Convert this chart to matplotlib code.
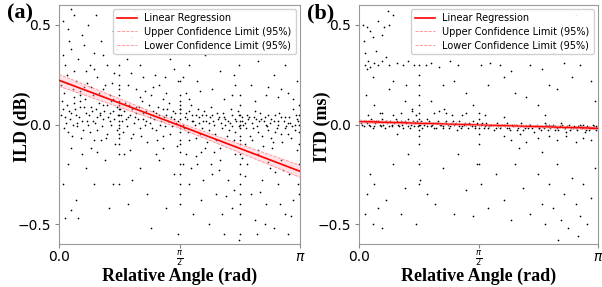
import numpy as np
import matplotlib
matplotlib.use("Agg")
import matplotlib.pyplot as plt

PI = np.pi

# ---- ILD scatter (x in rad, y in dB) ----
ild_upper = [(0.05, 0.52), (0.12, 0.48), (0.2, 0.55), (0.3, 0.45), (0.38, 0.5), (0.15, 0.38),
             (0.25, 0.33), (0.08, 0.3), (0.45, 0.36), (0.55, 0.42), (0.62, 0.3), (0.7, 0.47),
             (0.1, 0.25), (0.22, 0.22), (0.35, 0.27), (0.5, 0.24), (0.6, 0.2), (0.72, 0.26),
             (0.18, 0.18), (0.42, 0.19), (0.66, 0.15), (0.03, 0.2), (0.28, 0.15), (0.13, 0.42),
             (0.48, 0.55), (0.58, 0.35), (0.33, 0.4), (0.05, 0.35), (0.75, 0.38), (0.4, 0.3),
             (0.85, 0.52), (0.95, 0.44), (1.05, 0.3), (1.15, 0.38), (1.25, 0.25), (1.35, 0.5),
             (1.45, 0.33), (1.55, 0.22), (0.9, 0.2), (1.0, 0.18), (1.1, 0.24), (1.2, 0.15),
             (1.3, 0.2), (1.4, 0.16), (1.5, 0.28), (0.88, 0.33), (1.18, 0.48), (1.42, 0.42),
             (1.02, 0.55), (1.7, 0.3), (1.8, 0.22), (1.9, 0.35), (2.0, 0.18), (2.1, 0.27),
             (2.2, 0.42), (2.3, 0.2), (1.75, 0.47), (2.05, 0.38), (2.25, 0.15), (1.95, 0.52),
             (2.35, 0.3), (1.65, 0.16), (2.5, 0.2), (2.6, 0.32), (2.7, 0.15), (2.8, 0.25),
             (2.9, 0.18), (3.0, 0.4), (3.1, 0.22), (2.65, 0.45), (2.95, 0.3), (2.55, 0.12),
             (2.85, 0.14), (3.05, 0.13), (0.16, 0.58), (0.98, 0.57), (0.27, 0.17), (0.52, 0.16),
             (0.07, 0.16), (0.37, 0.21), (1.12, 0.17), (1.62, 0.24), (2.15, 0.13), (2.72, 0.19),
             (0.11, 0.21), (0.19, 0.27), (0.32, 0.19), (0.46, 0.28), (0.57, 0.18), (0.69, 0.21),
             (0.94, 0.26), (1.22, 0.19), (1.38, 0.24), (1.84, 0.17), (2.28, 0.25), (2.98, 0.16)]

ild_band = [(0.03, 0.05), (0.07, -0.02), (0.1, 0.1), (0.14, 0.03), (0.17, -0.06), (0.21, 0.08),
            (0.24, 0.01), (0.28, 0.12), (0.31, -0.03), (0.35, 0.06), (0.38, 0.0), (0.42, 0.09),
            (0.45, -0.08), (0.49, 0.04), (0.52, 0.11), (0.56, -0.01), (0.59, 0.07), (0.63, -0.05),
            (0.66, 0.02), (0.7, 0.13), (0.73, -0.1), (0.77, 0.05), (0.8, 0.08), (0.84, -0.04),
            (0.87, 0.03), (0.91, 0.1), (0.94, -0.07), (0.98, 0.01), (1.01, 0.06), (1.05, -0.02),
            (1.08, 0.12), (1.12, 0.0), (1.15, -0.09), (1.19, 0.04), (1.22, 0.07), (1.26, -0.03),
            (1.29, 0.09), (1.33, 0.02), (1.36, -0.06), (1.4, 0.05), (1.43, 0.11), (1.47, -0.01),
            (1.5, 0.03), (1.54, -0.11), (1.58, 0.08), (1.61, 0.0), (1.65, 0.06), (1.68, -0.04),
            (1.72, 0.1), (1.75, 0.02), (1.79, -0.07), (1.82, 0.04), (1.86, -0.02), (1.89, 0.07),
            (1.93, -0.09), (1.96, 0.01), (2.0, 0.05), (2.03, -0.05), (2.07, 0.03), (2.1, -0.12),
            (2.14, 0.06), (2.17, 0.0), (2.21, -0.03), (2.24, 0.08), (2.28, -0.08), (2.31, 0.02),
            (2.35, -0.01), (2.38, 0.04), (2.42, -0.1), (2.45, 0.05), (2.49, -0.06), (2.52, 0.01),
            (2.56, 0.07), (2.59, -0.04), (2.63, 0.03), (2.66, -0.11), (2.7, 0.0), (2.73, 0.05),
            (2.77, -0.07), (2.8, 0.02), (2.84, -0.02), (2.87, 0.06), (2.91, -0.09), (2.94, 0.04),
            (2.98, -0.05), (3.01, 0.01), (3.05, 0.08), (3.08, -0.03), (3.12, 0.02),
            (0.05, 0.08), (0.09, 0.01), (0.12, -0.04), (0.16, 0.06), (0.19, 0.11), (0.23, -0.01),
            (0.26, 0.04), (0.29, -0.07), (0.33, 0.09), (0.36, 0.02), (0.4, -0.04), (0.43, 0.07),
            (0.47, 0.01), (0.5, -0.03), (0.54, 0.05), (0.57, 0.1), (0.61, -0.07), (0.64, 0.04),
            (0.68, 0.0), (0.71, 0.07), (0.75, -0.03), (0.82, 0.02), (0.86, 0.11), (0.89, -0.01),
            (0.93, 0.05), (0.96, -0.05), (1.0, 0.09), (1.03, 0.03), (1.07, -0.06), (1.1, 0.06),
            (1.14, 0.02), (1.17, 0.1), (1.21, -0.02), (1.24, 0.03), (1.28, -0.08), (1.31, 0.05),
            (1.35, 0.08), (1.38, -0.01), (1.42, 0.02), (1.45, -0.05), (1.49, 0.07), (1.52, 0.01),
            (1.63, -0.02), (1.67, 0.03), (1.7, -0.08), (1.74, 0.05), (1.77, 0.0), (1.81, 0.08),
            (1.84, -0.05), (1.88, 0.02), (1.91, 0.05), (1.95, -0.03), (1.98, 0.09), (2.02, 0.0),
            (2.05, -0.08), (2.09, 0.04), (2.12, -0.02), (2.16, 0.03), (2.19, -0.06), (2.23, 0.01),
            (2.26, 0.05), (2.3, -0.04), (2.33, 0.07), (2.4, 0.0), (2.44, -0.02), (2.47, 0.03),
            (2.51, -0.08), (2.54, 0.04), (2.58, -0.01), (2.61, 0.02), (2.65, -0.06), (2.68, 0.04),
            (2.72, -0.03), (2.75, 0.01), (2.79, -0.09), (2.82, 0.05), (2.86, 0.0), (2.89, -0.05),
            (2.93, 0.02), (2.96, -0.01), (3.0, 0.04), (3.03, -0.07), (3.07, 0.0), (3.1, 0.03),
            (0.2, 0.14), (0.44, 0.15), (0.68, 0.12), (1.06, 0.14), (1.36, 0.13), (1.7, 0.13),
            (0.15, -0.12), (0.5, -0.14), (0.93, -0.13), (1.27, -0.15), (1.85, -0.14), (2.6, -0.13),
            (0.04, 0.12), (0.08, 0.04), (0.13, 0.07), (0.18, 0.0), (0.22, 0.05), (0.27, 0.09),
            (0.3, 0.02), (0.34, 0.13), (0.39, 0.05), (0.44, 0.02), (0.48, 0.08), (0.53, 0.06),
            (0.58, 0.03), (0.62, 0.1), (0.67, 0.06), (0.72, 0.03), (0.76, 0.09), (0.81, 0.05),
            (0.85, 0.07), (0.9, 0.04), (0.95, 0.08), (0.99, 0.04), (1.04, 0.09), (1.09, 0.03),
            (1.13, 0.07), (1.18, 0.01), (1.23, 0.05), (1.27, 0.06), (1.32, 0.0), (1.37, 0.04),
            (1.41, 0.08), (1.46, 0.04), (1.51, 0.06), (1.55, 0.02), (1.64, 0.04), (1.69, 0.07),
            (1.73, 0.02), (1.78, 0.05), (1.83, 0.01), (1.87, 0.05), (1.92, 0.02), (1.97, 0.04),
            (2.01, 0.02), (2.06, 0.06), (2.11, 0.01), (2.15, 0.04), (2.2, 0.02), (2.25, -0.01),
            (2.29, 0.03), (2.34, 0.05), (2.39, 0.02), (2.43, 0.01), (2.48, 0.04), (2.53, -0.02),
            (2.57, 0.03), (2.62, 0.06), (2.67, 0.02), (2.71, -0.01), (2.76, 0.03), (2.81, -0.04),
            (2.85, 0.02), (2.9, 0.04), (2.95, -0.02), (2.99, 0.01), (3.04, -0.01), (3.09, 0.05)]

ild_lower = [(0.05, -0.3), (0.08, -0.47), (0.15, -0.43), (0.22, -0.38), (0.25, -0.47),
             (0.45, -0.3), (0.3, -0.15), (0.55, -0.08), (0.35, -0.22), (0.6, -0.18),
             (0.7, -0.3), (0.12, -0.2), (0.42, -0.12), (0.65, -0.42),
             (0.85, -0.15), (0.95, -0.28), (1.05, -0.22), (1.15, -0.35), (1.3, -0.18),
             (1.4, -0.42), (1.5, -0.25), (1.2, -0.52), (0.9, -0.4), (1.35, -0.12), (1.55, -0.55),
             (1.65, -0.15), (1.7, -0.3), (1.75, -0.45), (1.8, -0.2), (1.85, -0.38), (1.9, -0.12),
             (1.95, -0.5), (2.0, -0.25), (2.05, -0.35), (2.1, -0.18), (2.15, -0.55), (2.2, -0.28),
             (2.25, -0.42), (2.3, -0.15), (2.35, -0.58), (1.72, -0.22), (1.88, -0.28),
             (2.12, -0.45), (2.28, -0.33), (2.02, -0.14), (2.45, -0.2), (2.5, -0.35),
             (2.55, -0.48), (2.6, -0.15), (2.65, -0.28), (2.7, -0.4), (2.75, -0.22), (2.8, -0.52),
             (2.85, -0.3), (2.9, -0.18), (2.95, -0.45), (3.0, -0.25), (3.05, -0.38), (3.1, -0.13),
             (2.58, -0.55), (2.78, -0.12), (2.98, -0.55), (2.68, -0.5), (3.12, -0.3), (2.88, -0.4),
             (1.98, -0.2), (2.18, -0.36), (2.42, -0.26), (2.62, -0.34), (2.82, -0.24), (3.02, -0.46),
             (1.78, -0.16), (2.08, -0.23), (2.38, -0.17), (2.72, -0.19), (2.92, -0.23), (1.62, -0.2)]

ild_col_x = [0.785, 1.571, 2.356, 3.13]
ild_col_y = [[0.3, 0.25, 0.2, 0.18, 0.15, 0.12, 0.1, 0.08, 0.05, 0.02, 0.0, -0.02, -0.05, -0.07,
              -0.1, -0.15, -0.3],
             [0.22, 0.15, 0.12, 0.1, 0.08, 0.06, 0.03, 0.0, -0.02, -0.04, -0.08, -0.1, -0.14,
              -0.2, -0.25, -0.3, -0.35, -0.4],
             [0.15, 0.1, 0.05, 0.02, 0.0, -0.02, -0.06, -0.08, -0.1, -0.15, -0.2, -0.25, -0.3,
              -0.35, -0.4, -0.45, -0.55],
             [0.1, 0.05, 0.0, -0.04, -0.1, -0.2, -0.35]]

# ---- ITD scatter (x in rad, y in ms) ----
itd_upper = [(0.05, 0.5), (0.1, 0.49), (0.15, 0.47), (0.25, 0.52), (0.33, 0.49), (0.4, 0.5),
             (0.06, 0.42), (0.18, 0.44), (0.3, 0.45), (0.45, 0.55), (0.38, 0.57),
             (0.08, 0.3), (0.1, 0.28), (0.12, 0.32), (0.15, 0.29), (0.2, 0.31), (0.25, 0.3),
             (0.3, 0.32), (0.4, 0.3), (0.5, 0.31), (0.58, 0.3), (0.65, 0.32), (0.72, 0.3),
             (0.08, 0.36), (0.22, 0.37), (0.35, 0.34), (0.18, 0.24), (0.45, 0.22),
             (0.09, 0.15), (0.2, 0.1), (0.4, 0.18), (0.6, 0.12), (0.7, 0.08),
             (0.88, 0.3), (0.95, 0.31), (1.05, 0.29), (1.2, 0.32), (1.3, 0.3), (1.1, 0.2),
             (1.25, 0.22), (1.4, 0.16), (1.5, 0.1), (0.95, 0.12), (1.15, 0.06), (1.35, 0.05),
             (1.6, 0.3), (1.72, 0.31), (1.85, 0.3), (1.9, 0.24), (2.0, 0.27), (1.7, 0.2),
             (2.05, 0.16), (2.15, 0.38), (2.25, 0.3), (2.4, 0.28), (2.55, 0.36),
             (2.2, 0.14), (2.35, 0.1), (2.5, 0.2), (2.6, 0.18), (2.7, 0.31), (2.8, 0.24),
             (2.9, 0.3), (3.05, 0.22), (3.1, 0.12), (2.85, 0.55), (1.42, 0.52), (2.45, 0.05),
             (0.55, 0.06), (0.75, 0.05), (1.05, 0.07), (0.3, 0.06), (0.62, 0.2)]

itd_band = [(0.02, 0.01), (0.06, -0.01), (0.09, 0.02), (0.13, 0.0), (0.16, 0.03), (0.2, -0.01),
            (0.23, 0.02), (0.27, 0.0), (0.3, 0.03), (0.34, -0.02), (0.37, 0.01), (0.41, 0.02),
            (0.44, -0.01), (0.48, 0.03), (0.51, 0.0), (0.55, 0.02), (0.58, -0.02), (0.62, 0.01),
            (0.65, 0.03), (0.69, 0.0), (0.72, -0.01), (0.76, 0.02), (0.8, 0.0), (0.83, -0.02),
            (0.87, 0.01), (0.9, 0.03), (0.94, -0.01), (0.97, 0.01), (1.01, -0.02), (1.04, 0.02),
            (1.08, 0.0), (1.11, -0.01), (1.15, 0.02), (1.18, -0.02), (1.22, 0.01), (1.25, 0.0),
            (1.29, -0.03), (1.32, 0.02), (1.36, -0.01), (1.39, 0.01), (1.43, -0.02), (1.46, 0.0),
            (1.5, 0.02), (1.53, -0.01), (1.6, 0.0), (1.64, -0.02), (1.67, 0.01), (1.71, -0.01),
            (1.74, 0.0), (1.78, -0.03), (1.81, 0.01), (1.85, -0.02), (1.88, 0.0), (1.92, -0.01),
            (1.95, 0.01), (1.99, -0.03), (2.02, -0.01), (2.06, 0.0), (2.09, -0.02), (2.13, 0.01),
            (2.16, -0.03), (2.2, -0.01), (2.23, 0.0), (2.27, -0.02), (2.3, -0.04), (2.34, 0.0),
            (2.37, -0.02), (2.41, -0.01), (2.44, 0.01), (2.48, -0.03), (2.51, -0.02), (2.55, 0.0),
            (2.58, -0.01), (2.62, -0.03), (2.65, 0.01), (2.69, -0.02), (2.72, -0.04), (2.76, 0.0),
            (2.79, -0.02), (2.83, -0.01), (2.86, -0.03), (2.9, 0.0), (2.93, -0.02), (2.97, -0.04),
            (3.0, -0.01), (3.04, -0.02), (3.07, 0.0), (3.11, -0.03),
            (0.04, 0.0), (0.11, 0.01), (0.18, -0.02), (0.25, 0.02), (0.32, 0.0), (0.39, -0.01),
            (0.46, 0.01), (0.53, -0.01), (0.6, 0.02), (0.67, -0.02), (0.74, 0.01), (0.81, 0.02),
            (0.89, -0.01), (0.96, 0.0), (1.03, 0.01), (1.1, -0.02), (1.17, 0.0), (1.24, 0.02),
            (1.31, -0.01), (1.38, 0.0), (1.45, 0.01), (1.52, -0.02), (1.62, 0.01), (1.69, -0.02),
            (1.76, 0.0), (1.83, -0.01), (1.9, 0.0), (1.97, -0.02), (2.04, 0.0), (2.11, -0.01),
            (2.18, -0.02), (2.25, 0.0), (2.32, -0.01), (2.39, -0.03), (2.46, 0.0), (2.53, -0.01),
            (2.6, -0.02), (2.67, 0.0), (2.74, -0.01), (2.81, -0.02), (2.88, -0.01), (2.95, 0.0),
            (3.02, -0.03), (3.09, -0.01),
            (0.07, 0.02), (0.14, -0.01), (0.21, 0.01), (0.29, -0.01), (0.36, 0.02), (0.43, 0.0),
            (0.5, 0.02), (0.57, 0.0), (0.64, -0.01), (0.71, 0.02), (0.78, -0.01), (0.85, 0.0),
            (0.92, 0.02), (0.99, -0.02), (1.06, 0.0), (1.13, 0.01), (1.2, -0.01), (1.27, 0.01),
            (1.34, -0.02), (1.41, 0.0), (1.48, -0.01), (1.55, 0.01), (1.66, -0.01), (1.73, 0.0),
            (1.8, -0.02), (1.87, -0.01), (1.94, -0.02), (2.01, 0.0), (2.08, -0.03), (2.15, -0.01),
            (2.22, -0.02), (2.29, -0.01), (2.36, -0.02), (2.43, -0.02), (2.5, 0.0), (2.57, -0.03),
            (2.64, -0.01), (2.71, -0.02), (2.78, -0.03), (2.85, -0.02), (2.92, -0.01), (2.99, -0.03),
            (3.06, -0.02), (3.12, -0.01),
            (0.12, 0.05), (0.28, 0.06), (0.45, 0.05), (0.7, 0.07), (0.98, 0.06), (1.12, 0.08),
            (1.22, 0.05), (1.4, 0.06), (1.65, 0.05), (1.9, 0.04),
            (1.9, -0.06), (2.0, -0.08), (2.12, -0.05), (2.2, -0.09), (2.35, -0.07), (2.5, -0.06),
            (2.6, -0.08), (2.72, -0.06), (2.85, -0.09), (2.95, -0.07), (3.05, -0.08), (0.5, -0.05)]

itd_lower = [(0.15, -0.25), (0.2, -0.3), (0.1, -0.35), (0.25, -0.42), (0.08, -0.45),
             (0.18, -0.5), (0.3, -0.52), (0.35, -0.38), (0.45, -0.2), (0.55, -0.45),
             (0.6, -0.32), (0.75, -0.5), (0.8, -0.28), (0.9, -0.35), (1.0, -0.4),
             (1.1, -0.22), (1.25, -0.45), (1.4, -0.33), (1.55, -0.2), (1.6, -0.3),
             (1.7, -0.42), (1.8, -0.25), (1.9, -0.38), (2.0, -0.48), (2.05, -0.2),
             (2.15, -0.32), (2.25, -0.45), (2.35, -0.25), (2.4, -0.4), (2.45, -0.5),
             (2.5, -0.3), (2.55, -0.42), (2.6, -0.2), (2.65, -0.48), (2.7, -0.35),
             (2.75, -0.52), (2.8, -0.27), (2.85, -0.4), (2.9, -0.46), (2.95, -0.3),
             (3.0, -0.5), (3.05, -0.37), (3.1, -0.22), (2.62, -0.58), (2.88, -0.56),
             (1.3, -0.15), (2.1, -0.12), (2.4, -0.14), (0.65, -0.15), (1.5, -0.46)]

itd_col_x = [0.785, 1.571]
itd_col_y = [[0.3, 0.25, 0.2, 0.15, 0.1, 0.06, 0.03, 0.0, -0.03, -0.06, -0.1, -0.2, -0.3],
             [0.06, 0.03, 0.0, -0.02, -0.05, -0.1, -0.2]]

# regression line and 95% confidence limits at x = 0, pi/2, pi
reg_x = [0.0, PI / 2, PI]
ild_fit = [0.222, -0.005, -0.235]
ild_hi = [0.252, 0.008, -0.205]
ild_lo = [0.192, -0.018, -0.265]
itd_fit = [0.015, -0.002, -0.019]
itd_hi = [0.022, 0.002, -0.012]
itd_lo = [0.008, -0.006, -0.026]

xticks = [0, PI / 2, PI]
xticklabels = ["0.0", r"$\frac{\pi}{2}$", r"$\pi$"]
yticks = [-0.5, 0.0, 0.5]

SERIF = ["Liberation Serif", "DejaVu Serif"]

fig = plt.figure(figsize=(6.02, 2.87), dpi=100)
ax_a = fig.add_axes([59 / 602, 43 / 287, 241 / 602, 239 / 287])
ax_b = fig.add_axes([359 / 602, 43 / 287, 239 / 602, 239 / 287])


def draw_panel(ax, groups, col_x, col_y, fit, hi, lo, ylabel, tag):
    for pts in groups:
        arr = np.array(pts)
        ax.scatter(arr[:, 0], arr[:, 1], s=1.5, c="black", linewidths=0, zorder=2)
    for cx, cy in zip(col_x, col_y):
        ax.scatter(np.full(len(cy), cx), cy, s=1.5, c="black", linewidths=0, zorder=2)
    ax.fill_between(reg_x, lo, hi, color="#ffb6c1", alpha=0.4, linewidth=0, zorder=3)
    ax.plot(reg_x, fit, color="red", lw=1.2, label="Linear Regression", zorder=4)
    ax.plot(reg_x, hi, color="#ff8c8c", lw=0.6, ls="--", label="Upper Confidence Limit (95%)", zorder=4)
    ax.plot(reg_x, lo, color="#ff8c8c", lw=0.6, ls="--", label="Lower Confidence Limit (95%)", zorder=4)

    ax.set_xlim(0, PI)
    ax.set_ylim(-0.6, 0.6)
    ax.set_xticks(xticks)
    ax.set_xticklabels(xticklabels)
    ax.set_yticks(yticks)
    ax.tick_params(labelsize=10, length=3, pad=2.5, color="#888888")
    ax.tick_params(axis="x", pad=1.5)
    ax.get_xticklabels()[1].set_fontsize(8.5)
    for sp in ax.spines.values():
        sp.set_color("#999999")
        sp.set_linewidth(0.8)
    ax.set_xlabel("Relative Angle (rad)", family=SERIF, weight="bold", fontsize=13)
    ax.xaxis.set_label_coords(0.5, -0.1)
    ax.set_ylabel(ylabel, family=SERIF, weight="bold", fontsize=13)
    ax.yaxis.set_label_coords(-0.118, 0.49)
    ax.text(-0.16, 0.965, tag, transform=ax.transAxes, family=SERIF, weight="bold",
            fontsize=16, ha="center", va="center")
    leg = ax.legend(loc="upper right", fontsize=7, handlelength=2.0, handletextpad=0.8,
                    borderaxespad=0.45, borderpad=0.4, labelspacing=0.35, framealpha=0.9)
    leg.get_frame().set_edgecolor("#cccccc")


draw_panel(ax_a, [ild_upper, ild_band, ild_lower], ild_col_x, ild_col_y,
           ild_fit, ild_hi, ild_lo, "ILD (dB)", "(a)")
draw_panel(ax_b, [itd_upper, itd_band, itd_lower], itd_col_x, itd_col_y,
           itd_fit, itd_hi, itd_lo, "ITD (ms)", "(b)")

fig.savefig("out.png", dpi=100)
